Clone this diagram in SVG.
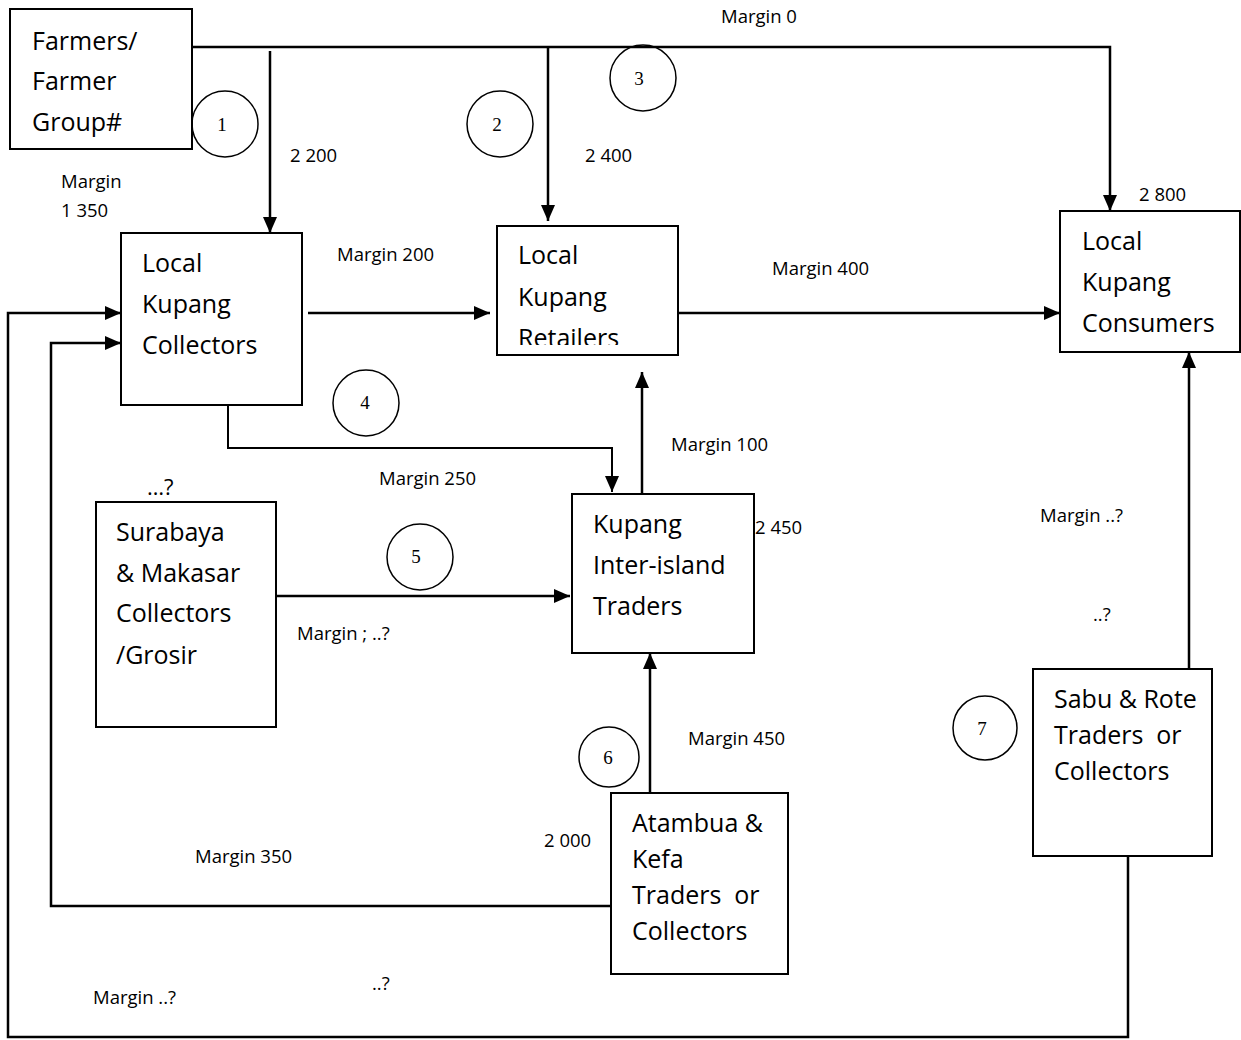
<svg xmlns="http://www.w3.org/2000/svg" width="1241" height="1040" viewBox="0 0 1241 1040">
  <style>
    .box { fill: #fff; stroke: #000; stroke-width: 2; }
    .big { font-family: "Open Sans", "Liberation Sans", sans-serif; font-size: 25px; fill: #000; white-space: pre; }
    .lbl { font-family: "Open Sans", "Liberation Sans", sans-serif; font-size: 18.5px; fill: #000; }
    .num { font-family: "Liberation Serif", "Times New Roman", serif; font-size: 19px; fill: #000; text-anchor: middle; }
    .ring { fill: none; stroke: #000; stroke-width: 1.5; }
    .wire { fill: none; stroke: #000; stroke-width: 2.5; }
    .thin { fill: none; stroke: #000; stroke-width: 2; }
  </style>
  <defs>
    <marker id="head" viewBox="0 0 16 14" refX="16" refY="7" markerWidth="16" markerHeight="14" markerUnits="userSpaceOnUse" orient="auto">
      <path d="M0,0 L16,7 L0,14 Z" fill="#000"/>
    </marker>
    <clipPath id="retailClip">
      <rect x="497" y="226" width="181" height="119"/>
    </clipPath>
  </defs>

  <rect width="1241" height="1040" fill="#fff"/>

  <!-- connectors -->
  <g id="connectors">
    <!-- farmers main line to consumers -->
    <path class="wire" d="M192,47 H1110 V211" marker-end="url(#head)"/>
    <path class="wire" d="M270,51 V233" marker-end="url(#head)"/>
    <path class="wire" d="M548,47 V221" marker-end="url(#head)"/>
    <!-- collectors -> retailers -> consumers -->
    <path class="wire" d="M308,313 H490" marker-end="url(#head)"/>
    <path class="wire" d="M678,313 H1060" marker-end="url(#head)"/>
    <!-- collectors -> inter-island traders -->
    <path class="thin" d="M228,405 V448 H612 V492" marker-end="url(#head)"/>
    <!-- inter-island -> retailers -->
    <path class="wire" d="M642,494 V372" marker-end="url(#head)"/>
    <!-- surabaya -> inter-island -->
    <path class="wire" d="M276,596 H570" marker-end="url(#head)"/>
    <!-- atambua -> inter-island -->
    <path class="wire" d="M650,793 V653" marker-end="url(#head)"/>
    <!-- sabu -> consumers -->
    <path class="wire" d="M1189,669 V352" marker-end="url(#head)"/>
    <!-- atambua -> collectors loop -->
    <path class="wire" d="M611,906 H51 V343 H121" marker-end="url(#head)"/>
    <!-- sabu -> collectors loop -->
    <path class="wire" d="M1128,857 V1037 H8 V313 H121" marker-end="url(#head)"/>
  </g>

  <!-- nodes -->
  <g id="farmers">
    <rect class="box" x="10" y="9" width="182" height="140"/>
    <text class="big" x="32" y="50">Farmers/</text>
    <text class="big" x="32" y="90">Farmer</text>
    <text class="big" x="32" y="131">Group#</text>
  </g>
  <g id="collectors">
    <rect class="box" x="121" y="233" width="181" height="172"/>
    <text class="big" x="142" y="272">Local</text>
    <text class="big" x="142" y="313">Kupang</text>
    <text class="big" x="142" y="354">Collectors</text>
  </g>
  <g id="retailers">
    <rect class="box" x="497" y="226" width="181" height="129"/>
    <g clip-path="url(#retailClip)">
      <text class="big" x="518" y="264">Local</text>
      <text class="big" x="518" y="306">Kupang</text>
      <text class="big" x="518" y="347">Retailers</text>
    </g>
  </g>
  <g id="consumers">
    <rect class="box" x="1060" y="211" width="180" height="141"/>
    <text class="big" x="1082" y="250">Local</text>
    <text class="big" x="1082" y="291">Kupang</text>
    <text class="big" x="1082" y="332">Consumers</text>
  </g>
  <g id="surabaya">
    <rect class="box" x="96" y="502" width="180" height="225"/>
    <text class="big" x="116" y="541">Surabaya</text>
    <text class="big" x="116" y="582">&amp; Makasar</text>
    <text class="big" x="116" y="622">Collectors</text>
    <text class="big" x="116" y="664">/Grosir</text>
  </g>
  <g id="interisland">
    <rect class="box" x="572" y="494" width="182" height="159"/>
    <text class="big" x="593" y="533">Kupang</text>
    <text class="big" x="593" y="574">Inter-island</text>
    <text class="big" x="593" y="615">Traders</text>
  </g>
  <g id="atambua">
    <rect class="box" x="611" y="793" width="177" height="181"/>
    <text class="big" x="632" y="832">Atambua &amp;</text>
    <text class="big" x="632" y="868">Kefa</text>
    <text class="big" x="632" y="904" xml:space="preserve">Traders  or</text>
    <text class="big" x="632" y="940">Collectors</text>
  </g>
  <g id="sabu">
    <rect class="box" x="1033" y="669" width="179" height="187"/>
    <text class="big" x="1054" y="708">Sabu &amp; Rote</text>
    <text class="big" x="1054" y="744" xml:space="preserve">Traders  or</text>
    <text class="big" x="1054" y="780">Collectors</text>
  </g>

  <!-- channel numbers -->
  <g id="channels">
    <circle class="ring" cx="225" cy="124" r="33"/><text class="num" x="222" y="131">1</text>
    <circle class="ring" cx="500" cy="124" r="33"/><text class="num" x="497" y="131">2</text>
    <circle class="ring" cx="643" cy="78" r="33"/><text class="num" x="639" y="85">3</text>
    <circle class="ring" cx="366" cy="403" r="33"/><text class="num" x="365" y="409">4</text>
    <circle class="ring" cx="420" cy="557" r="33"/><text class="num" x="416" y="563">5</text>
    <circle class="ring" cx="609" cy="757" r="30"/><text class="num" x="608" y="764">6</text>
    <circle class="ring" cx="985" cy="728" r="32"/><text class="num" x="982" y="735">7</text>
  </g>

  <!-- prices and margins -->
  <g id="labels">
    <text class="lbl" x="721" y="23">Margin 0</text>
    <text class="lbl" x="290" y="162">2 200</text>
    <text class="lbl" x="585" y="162">2 400</text>
    <text class="lbl" x="61" y="188">Margin</text>
    <text class="lbl" x="61" y="217">1 350</text>
    <text class="lbl" x="1139" y="201">2 800</text>
    <text class="lbl" x="337" y="261">Margin 200</text>
    <text class="lbl" x="772" y="275">Margin 400</text>
    <text class="lbl" x="671" y="451">Margin 100</text>
    <text class="lbl" x="379" y="485">Margin 250</text>
    <text class="big" x="147" y="495" style="font-size:22px">…?</text>
    <text class="lbl" x="755" y="534">2 450</text>
    <text class="lbl" x="297" y="640">Margin ; ..?</text>
    <text class="lbl" x="1040" y="522">Margin ..?</text>
    <text class="lbl" x="1093" y="621">..?</text>
    <text class="lbl" x="688" y="745">Margin 450</text>
    <text class="lbl" x="544" y="847">2 000</text>
    <text class="lbl" x="195" y="863">Margin 350</text>
    <text class="lbl" x="372" y="990">..?</text>
    <text class="lbl" x="93" y="1004">Margin ..?</text>
  </g>
</svg>
